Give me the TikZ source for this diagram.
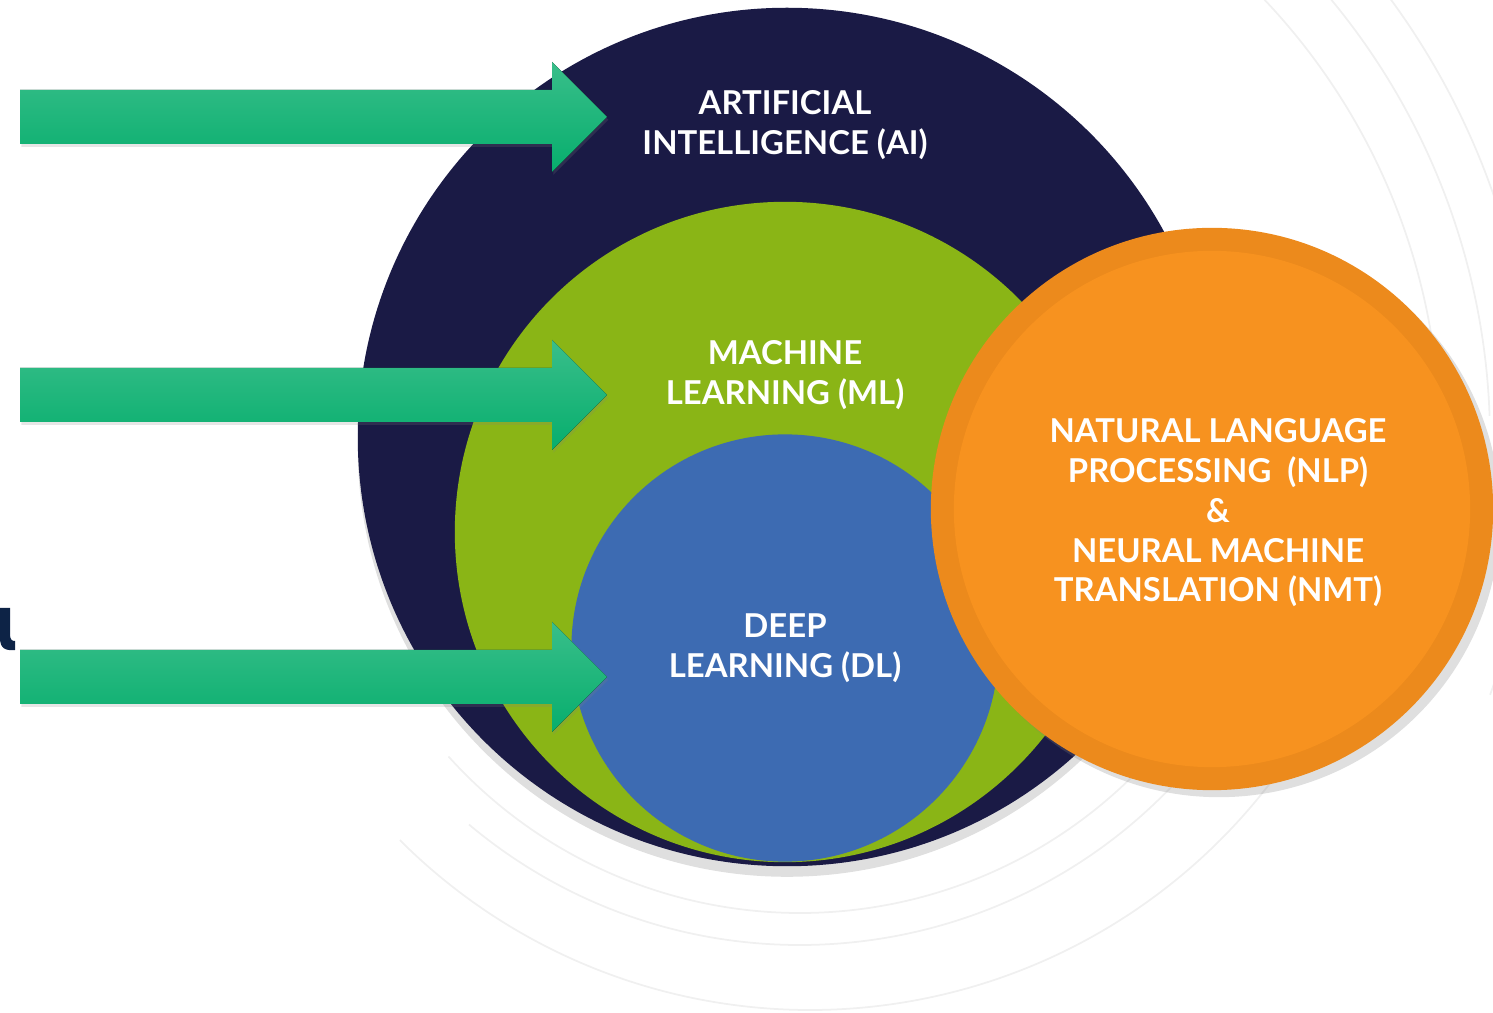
\documentclass[tikz,border=0pt]{standalone}
\usepackage{fontspec}
\setmainfont{Lato}
\usepackage{xcolor}
\usepackage{tikz}
\usetikzlibrary{positioning,shadows}

\definecolor{aiblue}{HTML}{1A1A45}
\definecolor{mlgreen}{HTML}{8AB516}
\definecolor{dlblue}{HTML}{3D6BB2}
\definecolor{nlporange}{HTML}{F7921F}
\definecolor{nlpring}{HTML}{EC8A1C}
\definecolor{arrowgreen}{HTML}{07AE6D}
\definecolor{glyphblue}{HTML}{0D2346}

\begin{document}
\begin{tikzpicture}[x=0.01cm,y=0.01cm,
    disc/.style={draw=none, circle, inner sep=0pt},
    lbl/.style={align=center, text=white, inner sep=0pt,
        font=\fontsize{9.35}{11.3}\selectfont\bfseries},
    ring/.style={draw=black!6, line width=0.5pt}]
        \tikzstyle{bigarrow} = [top color=arrowgreen!80!white, bottom color=arrowgreen,
            drop shadow={opacity=0.2, shadow xshift=0.4pt, shadow yshift=-0.8pt}]
        \useasboundingbox (0,0) rectangle (1493,-1013);
        \clip (0,0) rectangle (1493,-1013);

        % faint rings behind
        \draw[ring] (800,-440) ++(222:473) arc[start angle=222, end angle=330, radius=473];
        \draw[ring] (800,-430) ++(230:515) arc[start angle=230, end angle=320, radius=515];
        \draw[ring] (810,-430) ++(225:580) arc[start angle=225, end angle=325, radius=580];
        \draw[ring] (800,-440) ++(8:640) arc[start angle=8, end angle=48, radius=640];
        \draw[ring] (800,-440) ++(2:690) arc[start angle=2, end angle=45, radius=690];
        \draw[ring] (790,-440) ++(-20:745) arc[start angle=-20, end angle=40, radius=745];

        % nested circles
        \node[disc, fill=aiblue, minimum size=8.58cm,
            drop shadow={opacity=0.25, shadow xshift=0pt, shadow yshift=-3pt}] (ai) at (787,-437) {};
        \node[disc, fill=mlgreen, minimum size=6.6cm] (ml) at (785,-532) {};
        \node[disc, fill=dlblue, minimum size=4.27cm] (dl) at (785,-648) {};
        \node[disc, fill=nlpring, minimum size=5.62cm,
            drop shadow={opacity=0.25, shadow xshift=2pt, shadow yshift=-2pt}] (nlp) at (1212,-509) {};
        \node[disc, fill=nlporange, minimum size=5.16cm] (nlpin) at (1212,-509) {};

        % arrows
        \foreach \y/\n in {117/a, 395/b, 677/c} {
            \coordinate (tip\n) at (607,-\y);
            \fill[bigarrow] (20,-\y+27) -- (552,-\y+27) -- (552,-\y+55) -- (tip\n)
                -- (552,-\y-55) -- (552,-\y-27) -- (20,-\y-27) -- cycle;
        }

        % cut letter at the left edge
        \fill[glyphblue] (0,-608) -- (10,-608) -- (10,-634) .. controls (10,-640) and (12,-641) .. (15,-641)
            -- (15,-650) .. controls (5,-651) and (0,-648) .. (0,-638) -- cycle;

        % labels
        \node[lbl] (ailbl) at (785,-125) {ARTIFICIAL\\INTELLIGENCE (AI)};
        \node[lbl] (mllbl) at (785,-375) {MACHINE\\LEARNING (ML)};
        \node[lbl] (dllbl) at (785,-648) {DEEP\\LEARNING (DL)};
        \node[lbl] (nlplbl) at (1218,-513) {NATURAL LANGUAGE\\PROCESSING\ \ (NLP)\\\&\\NEURAL MACHINE\\TRANSLATION (NMT)};
\end{tikzpicture}
\end{document}
